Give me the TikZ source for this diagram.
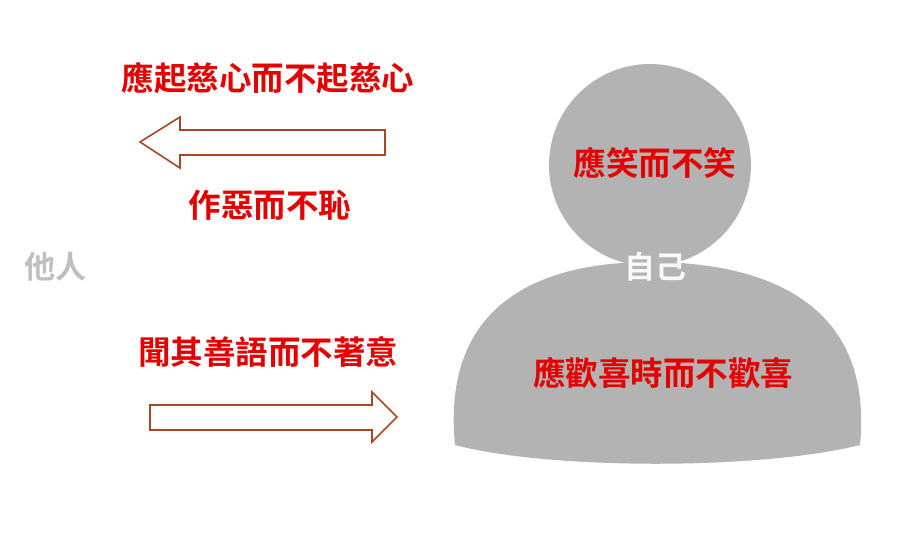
\documentclass[tikz,border=0pt]{standalone}
\usepackage{fontspec}
\newfontfamily\cjk{Noto Sans CJK TC}[BoldFont={* Bold}]
\begin{document}
\begin{tikzpicture}[x=1pt,y=-1pt,
 lbl/.style={font=\cjk\bfseries\fontsize{32.5}{36}\selectfont,text=red!90!black},
 glbl/.style={font=\cjk\bfseries\fontsize{31}{36}\selectfont,text=gray!50},
 arr/.style={draw=brown!70!red!80!black,line width=1.6pt,fill=white,line join=miter}]
\definecolor{persong}{HTML}{B3B3B3}
\useasboundingbox (0,0) rectangle (900,536);
\fill[white] (0,0) rectangle (900,536);
% body
\fill[persong] (455,445) .. controls (440,290) and (560,262) .. (650,262) .. controls (745,262) and (875,290) .. (860,445) .. controls (760,470) and (550,470) .. (455,445) -- cycle;
\fill[persong] (650,165) circle (101);
% arrows
\draw[arr] (140,142) -- (180,117) -- (180,130) -- (385,130) -- (385,155) -- (180,155) -- (180,168) -- cycle;
\draw[arr] (397,417) -- (372,392) -- (372,405) -- (150,405) -- (150,430) -- (372,430) -- (372,442) -- cycle;
% texts
\node[lbl] (t1) at (268,78) {應起慈心而不起慈心};
\node[lbl] (t2) at (270,205) {作惡而不恥};
\node[glbl] (t3) at (55,267) {他人};
\node[lbl] (t4) at (268,352) {聞其善語而不著意};
\node[lbl] (t5) at (655,163) {應笑而不笑};
\node[font=\cjk\bfseries\fontsize{31}{36}\selectfont,text=white!95!gray] (t6) at (655,267) {自己};
\node[lbl] (t7) at (663,373) {應歡喜時而不歡喜};
\end{tikzpicture}
\end{document}
